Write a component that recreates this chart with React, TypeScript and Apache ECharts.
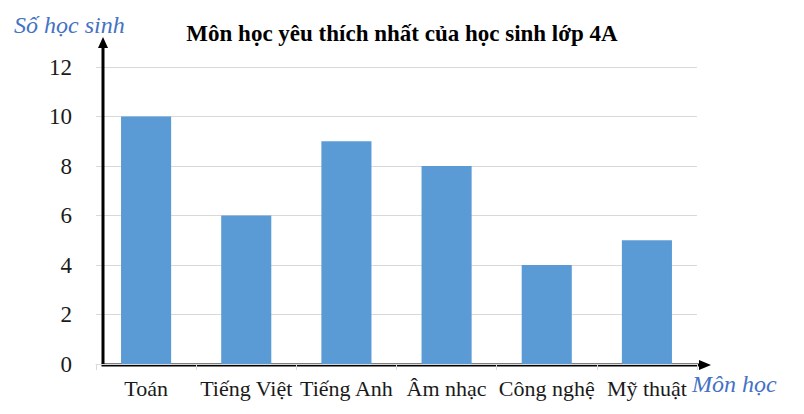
import { useEffect, useRef } from 'react'
import * as echarts from 'echarts'

const subjects = ['Toán', 'Tiếng Việt', 'Tiếng Anh', 'Âm nhạc', 'Công nghệ', 'Mỹ thuật']
const students = [10, 6, 9, 8, 4, 5]
const yTicks = { min: 0, max: 12, interval: 2 }

const title = 'Môn học yêu thích nhất của học sinh lớp 4A'
const yName = 'Số học sinh'
const xName = 'Môn học'

const FONT = 'Liberation Serif, serif'
const BLUE = '#4472c4'

export default function App() {
  const ref = useRef<HTMLDivElement>(null)

  useEffect(() => {
    if (!ref.current) return
    const chart = echarts.init(ref.current, null, { renderer: 'svg' })

    chart.setOption({
      animation: false,
      textStyle: { fontFamily: FONT },
      title: {
        text: title,
        left: 'center',
        top: 17,
        textStyle: { fontFamily: FONT, fontSize: 23, fontWeight: 'bold', color: '#000' },
      },
      grid: { left: 96, right: 107, top: 67, bottom: 50 },
      xAxis: {
        type: 'category',
        data: subjects,
        axisLine: { lineStyle: { color: '#d9d9d9', width: 1 } },
        axisTick: { show: true, length: 6, lineStyle: { color: '#d9d9d9' } },
        axisLabel: { color: '#1a1a1a', fontSize: 22, fontFamily: FONT, margin: 13, interval: 0 },
      },
      yAxis: {
        type: 'value',
        ...yTicks,
        axisLine: { show: false },
        axisTick: { show: false },
        splitLine: { lineStyle: { color: '#d9d9d9', width: 1 } },
        axisLabel: {
          margin: 24,
          formatter: '{n|{value}}',
          rich: { n: { color: '#1a1a1a', fontSize: 23, fontFamily: FONT } },
        },
      },
      series: [{
        type: 'bar',
        data: students,
        barWidth: '50%',
        itemStyle: { color: '#5b9bd5' },
      }],
    })

    // black arrow axes, placed from the chart's own scale
    const y0 = chart.convertToPixel({ yAxisIndex: 0 }, 0) as number
    const x0 = 103
    const yTop = 37
    const xEnd = 711
    chart.setOption({
      graphic: [
        { type: 'line', shape: { x1: x0, y1: y0 + 1, x2: x0, y2: yTop + 8 }, style: { stroke: '#000', lineWidth: 3 } },
        { type: 'polygon', shape: { points: [[x0, yTop], [x0 - 5, yTop + 11], [x0 + 5, yTop + 11]] }, style: { fill: '#000' } },
        { type: 'line', shape: { x1: x0 - 1.5, y1: y0 + 1, x2: xEnd - 8, y2: y0 + 1 }, style: { stroke: '#000', lineWidth: 3 } },
        { type: 'polygon', shape: { points: [[xEnd, y0 + 1], [xEnd - 12, y0 - 4], [xEnd - 12, y0 + 6]] }, style: { fill: '#000' } },
        {
          type: 'text', left: 14, top: 13,
          style: { text: yName, font: `italic 24px ${FONT}`, fill: BLUE },
        },
        {
          type: 'text', left: 692, top: 372,
          style: { text: xName, font: `italic 24px ${FONT}`, fill: BLUE },
        },
      ],
    })

    return () => chart.dispose()
  }, [])

  return <div ref={ref} style={{ position: 'fixed', left: 0, top: 0, width: 804, height: 414, background: '#fff' }} />
}
